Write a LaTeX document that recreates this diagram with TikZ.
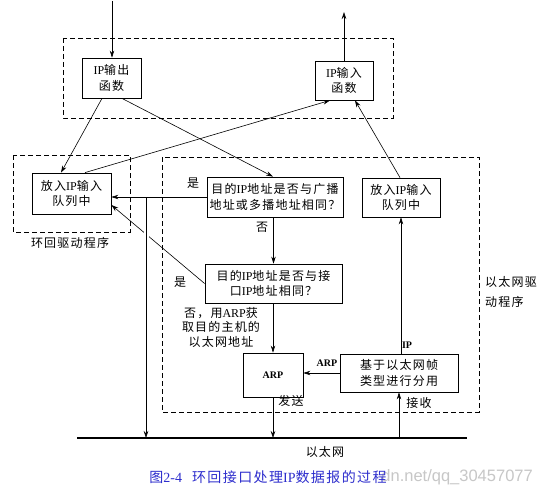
\documentclass[tikz,border=0pt]{standalone}
\usepackage{fontspec}
\setmainfont{Noto Sans CJK SC}[LetterSpace=10]
\newfontfamily\lat{Liberation Serif}
\newfontfamily\wm{Liberation Sans}
\usetikzlibrary{arrows.meta,calc}
\definecolor{capblue}{RGB}{45,45,205}
\begin{document}
\begin{tikzpicture}[x=1pt,y=-1pt,
  box/.style={draw, line width=0.8pt, inner sep=0pt, align=center, font=\fontsize{12}{15.5}\selectfont},
  arr/.style={-{Stealth[length=7pt,width=4.5pt]}, line width=0.6pt},
  dbox/.style={dash pattern=on 5pt off 3pt, line width=0.7pt},
  lbl/.style={inner sep=0pt, font=\fontsize{12}{14.5}\selectfont, align=center},
  blbl/.style={inner sep=0pt, font=\lat\bfseries\fontsize{10}{12}\selectfont},
  ]
\useasboundingbox[fill=white] (0,0) rectangle (543,492);

% dashed groups
\draw[dbox] (63,38) rectangle (393,118);
\draw[dbox] (13,155) rectangle (130,232);
\draw[dbox] (162,157) rectangle (479,412);

% boxes
\node[box, minimum width=59pt, minimum height=40pt] (outf) at (111.5,78) {{\lat IP}输出\\函数};
\node[box, minimum width=58pt, minimum height=39pt] (inf) at (344,80.5) {{\lat IP}输入\\函数};
\node[box, minimum width=79pt, minimum height=41pt] (lq) at (71.5,193.5) {放入{\lat IP}输入\\队列中};
\node[box, minimum width=136pt, minimum height=40pt] (bc) at (275,197) {目的{\lat IP}地址是否与广播\\地址或多播地址相同？};
\node[box, minimum width=137pt, minimum height=39pt] (ifc) at (273.5,283.5) {目的{\lat IP}地址是否与接\\口{\lat IP}地址相同？};
\node[box, minimum width=78pt, minimum height=39pt] (rq) at (401,197.5) {放入{\lat IP}输入\\队列中};
\node[box, minimum width=60pt, minimum height=44pt, font=\lat\bfseries\fontsize{10}{12}\selectfont] (arp) at (273,375) {ARP};
\node[box, minimum width=118pt, minimum height=38pt] (demux) at (399,373) {基于以太网帧\\类型进行分用};

% coordinates
\coordinate (topin) at (112,1);
\coordinate (topout) at (344,12);
\coordinate (eL) at (77,438);
\coordinate (eR) at (467,438);
\coordinate (jx) at (146,0);
\coordinate (j) at (bc.west -| jx);

% connectors
\draw[arr] (topin) -- (topin |- outf.north);
\draw[arr] (inf.north -| topout) -- (topout);
\draw[arr] ([xshift=-9.5pt]outf.south) -- ([xshift=-10.5pt]lq.north);
\draw[arr] ([xshift=10.5pt]outf.south) -- ([xshift=-2pt]bc.north);
\draw[arr] ([xshift=13.5pt]lq.north) -- ([xshift=-14pt]inf.south);
\draw[arr] ([xshift=-1pt]rq.north) -- ([xshift=11pt]inf.south);
\draw[arr] (ifc.west) -- ([yshift=-11.5pt]lq.east);
\draw[arr, preaction={draw, white, line width=5pt, -}] (j) -- (j |- eL);
\draw[arr] (bc.west) -- (lq.east |- bc.west);
\draw[arr] (ifc.north |- bc.south) -- (ifc.north);
\draw[arr] (ifc.south -| arp.north) -- (arp.north);
\draw[arr] (demux.west) -- (arp.east |- demux.west);
\draw[arr] (demux.north -| rq.south) -- (rq.south);
\draw[arr] (arp.south) -- (arp.south |- eL);
\draw[arr] (demux.south |- eL) -- (demux.south);
\draw[line width=2.6pt] (eL) -- (eR);

% labels
\node[lbl] (l1) at (193,183) {是};
\node[lbl] (l2) at (262,227) {否};
\node[lbl] (l3) at (180,282) {是};
\node[lbl] (l4) at (221,327) {否，用{\lat ARP}获\\取目的主机的\\以太网地址};
\node[blbl] (l5) at (327,363) {ARP};
\node[blbl] (l6) at (407,345) {IP};
\node[lbl] (l7) at (291,401) {发送};
\node[lbl] (l8) at (419,403) {接收};
\node[lbl] (l9) at (325,452) {以太网};
\node[lbl] (l10) at (70,243) {环回驱动程序};
\node[lbl, anchor=west, align=left, font=\fontsize{12}{20}\selectfont] (l11) at (485,292) {以太网驱\\动程序};

% watermark (visible part) and caption
\node[inner sep=0pt, anchor=east, text=black!22, font=\wm\fontsize{16.5}{18}\selectfont] (wm) at (533,477) {dn.net/qq\_30457077};
\node[inner sep=0pt, text=capblue, font=\fontsize{14}{15}\selectfont] (cap) at (268,477) {图{\lat 2-4}\hspace{10pt}环回接口处理{\lat IP}数据报的过程};
\end{tikzpicture}
\end{document}
